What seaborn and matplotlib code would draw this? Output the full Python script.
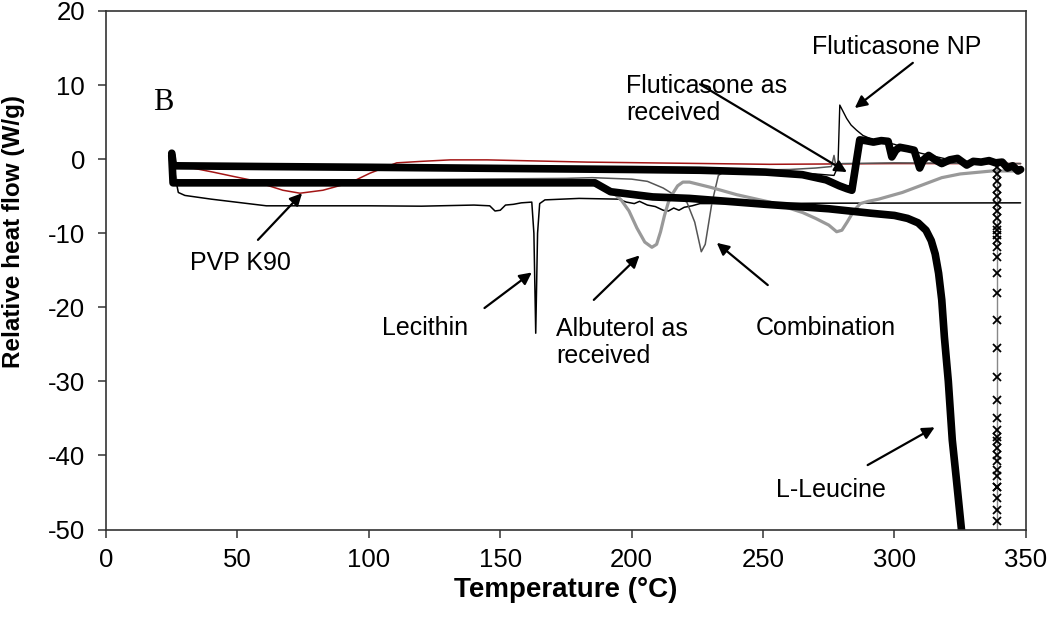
import matplotlib
matplotlib.use("Agg")
import matplotlib.pyplot as plt
import seaborn as sns

# DSC curves, values
# PVP K90 (red)
pvp_t = [25, 30, 40.7, 48, 54.8, 61, 67.3, 73.8, 82.5, 92.8, 100.4, 110.6, 120, 131, 145, 183, 252.5, 300, 348]
pvp_hf = [-0.8, -1.0, -1.75, -2.3, -2.8, -3.5, -4.2, -4.6, -4.2, -3.2, -1.9, -0.5, -0.3, -0.1, -0.1, -0.4, -0.7, -0.6, -0.6]

# Lecithin (thin black)
lec_t = [25, 27.5, 30, 40, 61, 100, 120, 140, 146, 148, 150, 152, 155, 158, 162, 162.8, 163.5, 164.2,
         165, 167, 180, 195, 198, 201, 203, 206, 209, 212, 214, 216, 218, 220, 223, 226, 250, 270, 348]
lec_hf = [0.0, -4.5, -4.9, -5.4, -6.3, -6.3, -6.35, -6.2, -6.3, -7.0, -6.9, -6.2, -6.1, -5.9, -5.8, -10.0, -23.5, -10.0,
          -6.0, -5.5, -5.3, -5.4, -5.8, -6.0, -5.7, -6.2, -6.4, -6.9, -7.0, -6.6, -6.9, -6.5, -6.3, -6.0, -6.0, -5.95, -5.9]

# Albuterol as received (grey)
alb_t = [25, 27, 185, 192, 196, 199, 202, 205, 207.7, 209.5, 211, 212.5, 214, 215.7, 217.5, 219.5, 222, 230, 240,
         252.6, 265, 270, 275, 278, 280, 282, 284.5, 287, 290, 294, 303, 312, 318, 325, 337, 348]
alb_hf = [-1.0, -3.2, -3.4, -4.2, -5.5, -7.0, -9.3, -11.2, -11.9, -11.5, -9.8, -7.6, -5.8, -4.6, -3.6, -3.1, -3.1, -3.8, -4.8,
          -5.8, -7.2, -8.0, -8.9, -9.8, -9.6, -8.5, -7.0, -6.0, -5.7, -5.4, -4.5, -3.3, -2.5, -2.0, -1.6, -1.6]

# Combination (thin dark grey)
comb_t = [25, 26, 100, 175, 185, 200, 206, 212, 217, 221, 224, 226.5, 228, 230.5, 233, 236, 260, 270, 276, 277, 278, 280, 300, 348]
comb_hf = [0.5, -2.8, -2.8, -2.6, -2.5, -2.7, -3.0, -3.9, -5.0, -5.8, -8.5, -12.5, -11.5, -6.0, -2.2, -1.5, -1.4, -1.2, -1.0, 0.5, -1.5, -0.6, -0.5, -0.6]

# L-Leucine (thick black)
leu_t = [25, 25.5, 100, 186, 188, 192, 208, 222, 251, 275, 291, 300, 305, 309, 312, 314, 315.5, 316.8, 318, 319,
         320.5, 322, 323.5, 325.5, 327]
leu_hf = [0.5, -3.2, -3.2, -3.2, -3.6, -4.4, -5.1, -5.3, -6.1, -6.7, -7.3, -7.6, -8.0, -8.6, -9.6, -11.0, -12.8, -15.4, -19.0, -24.0,
          -30.0, -37.9, -43.0, -50.0, -55.0]

# Fluticasone as received (thick black, noisy after melting)
flr_t = [25, 25.5, 26, 60, 100, 150, 200, 226, 251, 265, 274, 279, 282, 283.8, 285.3, 286.8, 289, 292, 295, 297.6,
         299, 300.5, 302, 305, 307.5, 309.6, 311, 313, 316, 318, 321, 324, 327.5, 330, 333, 336, 338.5, 341, 343,
         345, 347, 348]
flr_hf = [0.8, -0.5, -0.9, -1.0, -1.1, -1.25, -1.4, -1.5, -1.75, -2.1, -2.8, -3.6, -4.0, -4.2, -0.8, 2.6, 2.5, 2.3, 2.5, 2.4,
          0.3, 1.2, 1.6, 1.4, 1.2, -1.2, -0.1, 0.5, -0.2, -0.6, -0.1, 0.1, -0.8, -0.3, -0.4, -0.2, -0.5, -0.4, -1.2,
          -0.9, -1.6, -1.4]

# Fluticasone NP (thin black, ends with a drop drawn with x markers)
fnp_t = [25, 26, 100, 200, 250, 270, 277, 278.5, 279.2, 280.5, 281.8, 283.5, 285.6, 288, 292, 300, 310, 320, 330, 338.5,
         338.9, 338.9, 338.9, 338.9, 338.9, 338.9, 338.9, 338.9, 338.9, 338.9, 338.9, 338.9, 338.9, 338.9, 338.9, 338.9,
         338.9, 338.9, 338.9, 338.9, 338.9, 338.9, 338.9, 338.9, 338.9, 338.9, 338.9, 338.9, 338.9, 338.9]
fnp_hf = [0.5, -1.0, -1.1, -1.4, -1.7, -2.0, -2.2, -1.0, 7.3, 6.4, 5.5, 4.6, 3.9, 3.2, 2.6, 2.0, 0.8, 0.0, -0.4, -0.6,
          -1.0, -2.0, -3.0, -4.0, -5.0, -6.0, -7.0, -8.0, -9.0, -9.6, -10.3, -10.9, -11.9, -13.2, -15.4, -18.1,
          -21.7, -25.5, -29.4, -32.5, -35.0, -36.6, -37.5, -38.1, -39.0, -39.9, -40.8, -41.9, -42.8, -44.2]
fnp_drop_start = 20
drop_t = [338.9, 338.9, 338.9, 338.9, 338.9]
drop_hf = [-44.2, -45.7, -47.3, -48.9, -52.0]

# labels with arrows: text position, arrow tail, arrow tip
labels = ["PVP K90", "Lecithin", "Albuterol as\nreceived", "Combination", "L-Leucine",
          "Fluticasone as\nreceived", "Fluticasone NP"]
label_x = [51, 121.3, 171.2, 273.9, 275.8, 197.8, 300.9]
label_y = [-14.0, -22.8, -24.7, -22.8, -44.7, 8.0, 15.1]
label_ha = ["center", "center", "left", "center", "center", "left", "center"]
tail_x = [57.8, 144, 185.6, 251.8, 289.8, 226, 307]
tail_y = [-10.9, -20.1, -19.0, -17.0, -41.3, 10.1, 13.0]
tip_x = [74.6, 162, 203, 232.4, 315.3, 281.9, 284.9]
tip_y = [-4.6, -15.3, -13.0, -11.3, -36.2, -1.75, 6.9]

sns.set_style("ticks")
plt.rcParams['font.family'] = ['Liberation Sans', 'DejaVu Sans']
plt.rcParams['axes.unicode_minus'] = False
plt.rcParams['text.color'] = 'black'
plt.rcParams['axes.labelcolor'] = 'black'
plt.rcParams['xtick.color'] = 'black'
plt.rcParams['ytick.color'] = 'black'

fig = plt.figure(figsize=(10.5, 6.24), dpi=100)
ax = fig.add_axes([0.101, 0.1514, 0.876, 0.831])

kw = dict(ax=ax, sort=False, estimator=None, legend=False)
sns.lineplot(x=pvp_t, y=pvp_hf, color="#a31515", lw=1.1, **kw)
sns.lineplot(x=lec_t, y=lec_hf, color="black", lw=1.1, **kw)
sns.lineplot(x=comb_t, y=comb_hf, color="#555555", lw=1.1, **kw)
sns.lineplot(x=alb_t, y=alb_hf, color="#999999", lw=2.3, **kw)
sns.lineplot(x=fnp_t[:fnp_drop_start + 1], y=fnp_hf[:fnp_drop_start + 1], color="black", lw=1.0, **kw)
sns.lineplot(x=fnp_t[fnp_drop_start:] + drop_t, y=fnp_hf[fnp_drop_start:] + drop_hf, color="#888888", lw=1.0,
             marker="x", markersize=5.5, markeredgecolor="black", markeredgewidth=1.3, **kw)
sns.lineplot(x=leu_t, y=leu_hf, color="black", lw=5.5, **kw)
sns.lineplot(x=flr_t, y=flr_hf, color="black", lw=5.5, **kw)

for i in range(len(labels)):
    ax.annotate("", xy=(tip_x[i], tip_y[i]), xytext=(tail_x[i], tail_y[i]),
                arrowprops=dict(arrowstyle="-|>", color="black", lw=1.6, mutation_scale=18,
                                shrinkA=0, shrinkB=0))
    ax.text(label_x[i], label_y[i], labels[i], ha=label_ha[i], va="center", fontsize=18,
            multialignment="left", linespacing=1.15, color="black")

ax.text(21.7, 7.6, "B", fontsize=22, family="Liberation Serif", ha="center", va="center")

ax.set_xlim(0, 350)
ax.set_ylim(-50, 20)
ax.set_xticks(range(0, 351, 50))
ax.set_yticks(range(-50, 21, 10))
ax.tick_params(labelsize=18.5, direction="out", length=6, width=1.1, color="#333333", labelcolor="black")
ax.tick_params(axis="x", pad=7)
ax.tick_params(axis="y", pad=9)
for s in ax.spines.values():
    s.set_color("#333333")
    s.set_linewidth(1.2)

ax.set_xlabel("Temperature (°C)", fontsize=20, fontweight="bold", labelpad=4, color="black")
ax.set_ylabel("Relative heat flow (W/g)", fontsize=17.5, fontweight="bold", color="black")
ax.yaxis.set_label_coords(-0.088, 0.575)

fig.savefig("out.png", dpi=100)
